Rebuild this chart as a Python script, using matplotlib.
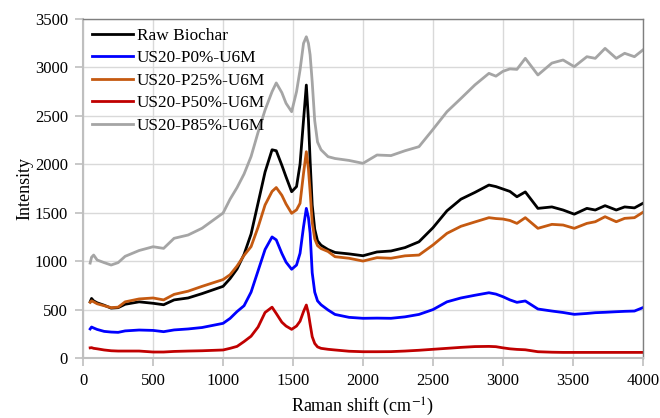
import matplotlib
matplotlib.use("Agg")
import matplotlib.pyplot as plt

# ── data ──────────────────────────────────────────────────────────────────────
raman_shift = [50, 60, 75, 100, 150, 200, 250, 300, 400, 500, 575, 650, 750, 850,
               1000, 1050, 1100, 1150, 1200, 1250, 1300, 1350, 1380, 1420, 1450,
               1490, 1525, 1550, 1575, 1595, 1610, 1622, 1637, 1655, 1675, 1700, 1750,
               1800, 1900, 2000, 2100, 2200, 2300, 2400, 2500, 2600, 2700, 2800,
               2900, 2950, 3000, 3050, 3100, 3160, 3250, 3350, 3430, 3510, 3600,
               3660, 3730, 3810, 3870, 3940, 4000]

raw_biochar = [580, 615, 590, 570, 545, 515, 520, 555, 580, 565, 550, 600, 620, 665,
               740, 820, 920, 1070, 1280, 1600, 1920, 2150, 2140, 1990, 1870,
               1717, 1770, 2000, 2457, 2818, 2457, 2040, 1580, 1330, 1210, 1165, 1120,
               1090, 1075, 1056, 1095, 1105, 1140, 1200, 1345, 1520, 1640, 1710,
               1786, 1770, 1745, 1720, 1665, 1715, 1545, 1560, 1528, 1485, 1545,
               1528, 1573, 1528, 1560, 1550, 1597]

p0 = [300, 320, 310, 295, 275, 268, 265, 280, 289, 285, 272, 290, 300, 315,
      358, 409, 480, 540, 680, 900, 1120, 1250, 1220, 1080, 990,
      916, 960, 1081, 1356, 1545, 1450, 1290, 880, 680, 590, 550, 496,
      450, 420, 410, 412, 410, 425, 450, 500, 580, 620, 648,
      674, 660, 633, 600, 575, 589, 506, 485, 470, 451, 460,
      468, 472, 478, 482, 485, 520]

p25 = [575, 590, 580, 560, 540, 520, 525, 580, 610, 620, 600, 657, 690, 740,
       810, 860, 950, 1060, 1150, 1350, 1580, 1720, 1760, 1680, 1590,
       1494, 1530, 1597, 1907, 2130, 1950, 1720, 1400, 1230, 1160, 1130, 1100,
       1046, 1030, 1001, 1036, 1030, 1055, 1063, 1167, 1287, 1360, 1405,
       1449, 1440, 1435, 1420, 1390, 1449, 1339, 1380, 1373, 1339, 1390,
       1407, 1459, 1407, 1442, 1449, 1504]

p50 = [105, 107, 100, 95, 83, 75, 72, 72, 72, 62, 62, 68, 72, 75,
       83, 100, 120, 170, 225, 320, 470, 525, 460, 370, 330,
       296, 330, 380, 480, 547, 460, 350, 220, 150, 115, 100, 90,
       83, 70, 65, 65, 66, 72, 80, 90, 100, 110, 118,
       120, 117, 105, 95, 89, 85, 65, 60, 58, 58, 58,
       58, 58, 58, 58, 58, 58]

p85 = [980, 1040, 1063, 1012, 985, 960, 985, 1050, 1110, 1149, 1132, 1236, 1270, 1340,
       1497, 1640, 1760, 1900, 2080, 2330, 2560, 2750, 2840, 2740, 2630,
       2543, 2750, 2973, 3249, 3317, 3249, 3130, 2850, 2450, 2230, 2150, 2079,
       2060, 2040, 2010, 2096, 2090, 2140, 2182, 2360, 2543, 2680, 2820,
       2939, 2910, 2960, 2985, 2980, 3094, 2922, 3045, 3077, 3008, 3111,
       3094, 3197, 3094, 3146, 3111, 3180]

series = [
    ("Raw Biochar", raw_biochar, "#000000"),
    ("US20-P0%-U6M", p0, "#0000ff"),
    ("US20-P25%-U6M", p25, "#c55a11"),
    ("US20-P50%-U6M", p50, "#c00000"),
    ("US20-P85%-U6M", p85, "#a5a5a5"),
]

plt.rcParams["font.family"] = ["Liberation Serif", "DejaVu Serif"]
plt.rcParams["mathtext.fontset"] = "stix"

fig = plt.figure(figsize=(6.6, 4.18), dpi=100)
ax = fig.add_axes([0.126, 0.1435, 0.848, 0.811])

for label, vals, col in series:
    ax.plot(raman_shift, vals, color=col, lw=2.0, label=label)

ax.set_xlim(0, 4000)
ax.set_ylim(0, 3500)
ax.set_xticks(range(0, 4001, 500))
ax.set_yticks(range(0, 3501, 500))
ax.grid(True, color="#d9d9d9", lw=1.0)
ax.set_axisbelow(True)

for side in ("left", "bottom"):
    ax.spines[side].set_color("#bfbfbf")
    ax.spines[side].set_linewidth(1.5)
for side in ("top", "right"):
    ax.spines[side].set_color("#7f7f7f")
    ax.spines[side].set_linewidth(1.0)

ax.tick_params(labelsize=12, colors="#bfbfbf", labelcolor="black",
               length=6, width=1.2, pad=5)

ax.set_xlabel("Raman shift (cm$^{-1}$)", fontsize=13)
ax.set_ylabel("Intensity", fontsize=13)
ax.xaxis.set_label_coords(0.5, -0.11)
ax.yaxis.set_label_coords(-0.089, 0.5)

ax.legend(loc="upper left", frameon=False, fontsize=12.4, handlelength=2.4,
          labelspacing=0.38, handletextpad=0.2, borderaxespad=0.1,
          bbox_to_anchor=(0.0, 1.0))

fig.savefig("out.png", dpi=100)
